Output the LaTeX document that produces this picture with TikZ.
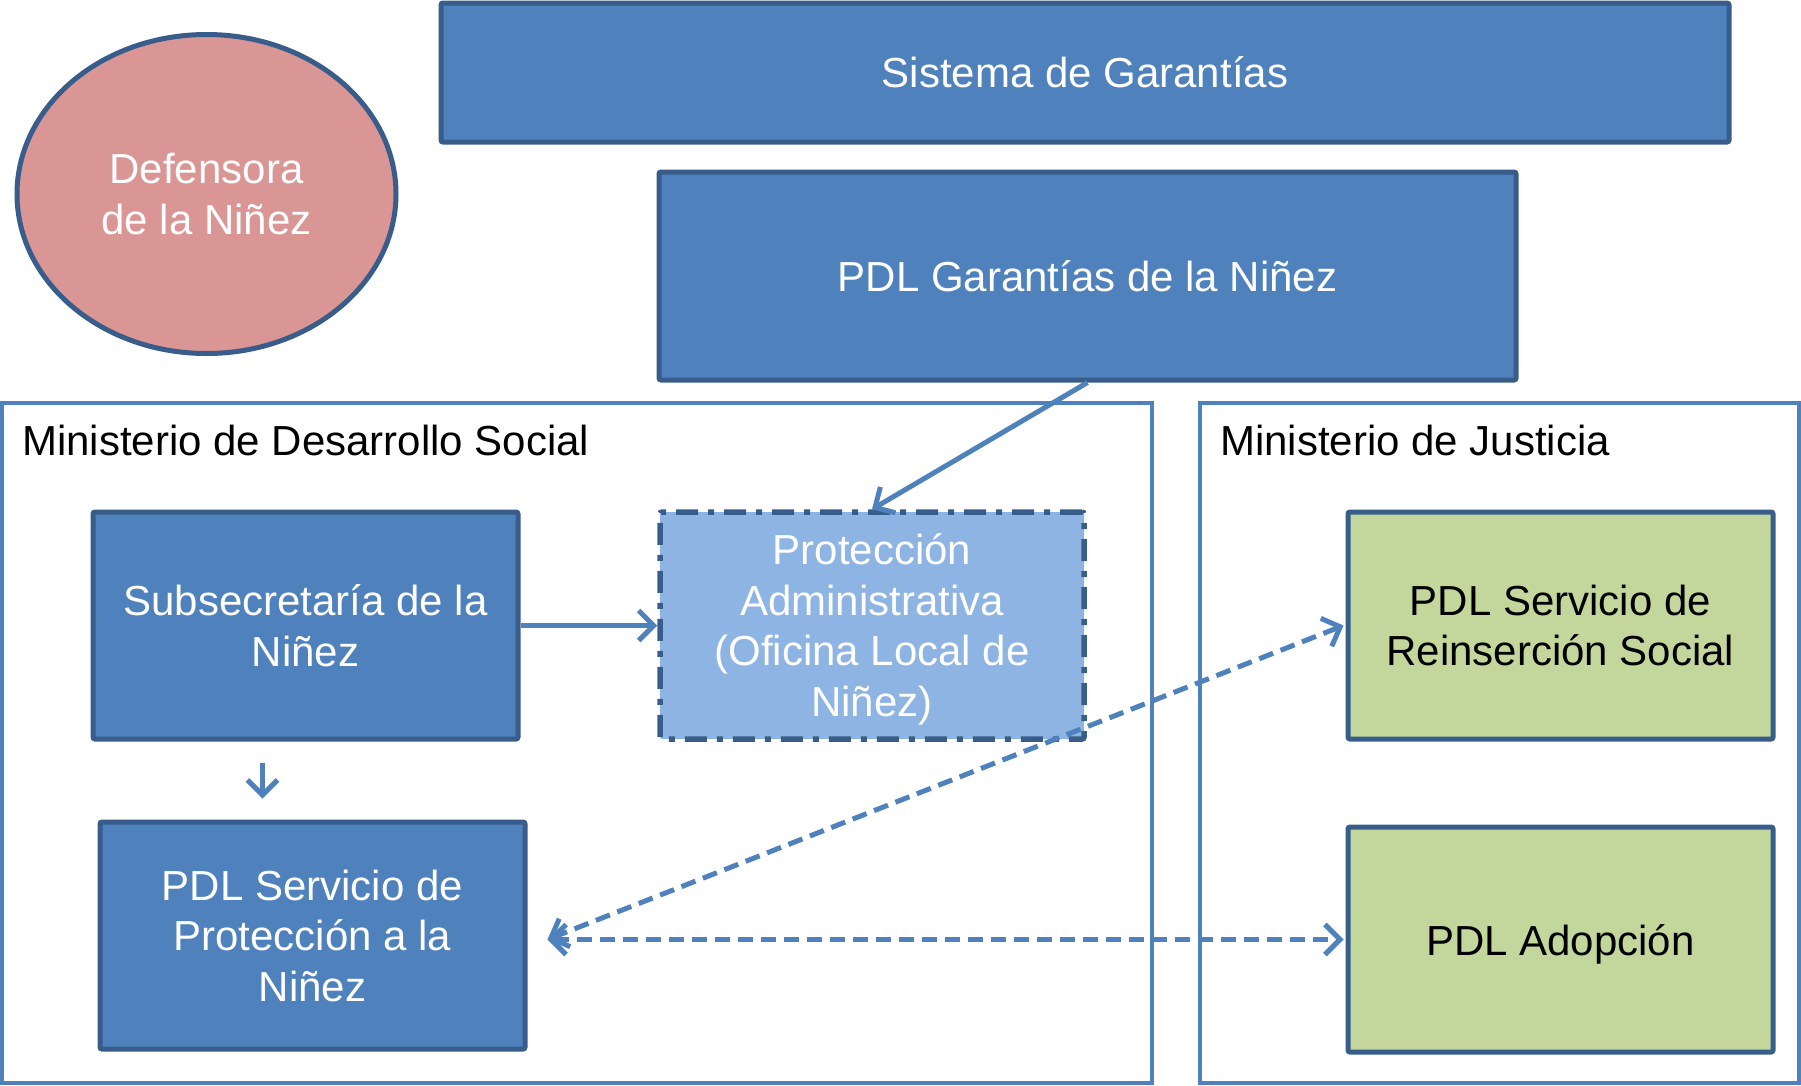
\documentclass[tikz,border=0pt]{standalone}
\usepackage{fontspec}
\setmainfont{Liberation Sans}
\usetikzlibrary{arrows.meta,shapes.geometric}
\definecolor{accent}{HTML}{4F81BD}
\definecolor{edge}{HTML}{385D8A}
\definecolor{lightblue}{HTML}{8EB4E3}
\definecolor{leaf}{HTML}{C3D69B}
\definecolor{rose}{HTML}{D99694}
\tikzset{
  bluebox/.style={draw=edge, line width=5pt, fill=accent, text=white, rounded corners=2pt,
    align=center, inner sep=0pt, font=\fontsize{42}{50.5}\selectfont},
  greenbox/.style={bluebox, fill=leaf, text=black},
  dashbox/.style={bluebox, fill=lightblue, line width=5.5pt, dash pattern=on 22pt off 10pt on 6pt off 10pt},
  container/.style={draw=accent, line width=3.5pt, inner sep=0pt},
  label/.style={anchor=west, inner sep=0pt, font=\fontsize{42}{50.5}\selectfont},
  conn/.style={draw=accent, line width=5pt, -{Straight Barb[length=15pt,width=30pt,line width=5pt]}},
  dconn/.style={conn, dash pattern=on 15pt off 8pt, {Straight Barb[length=15pt,width=30pt,line width=5pt]}-{Straight Barb[length=15pt,width=30pt,line width=5pt]}}
}
\begin{document}
\begin{tikzpicture}[x=1pt,y=-1pt]
\useasboundingbox (0,0) rectangle (1801,1085);
% containers
\node[container, minimum width=1150pt, minimum height=680pt] (mds) at (577,743) {};
\node[container, minimum width=599pt, minimum height=680pt] (mj) at (1499.5,743) {};
\node[label] (mdslab) at (22,440) {Ministerio de Desarrollo Social};
\node[label] (mjlab) at (1220,440) {Ministerio de Justicia};
% top
\node[draw=edge, line width=5pt, fill=rose, ellipse, minimum width=379pt, minimum height=319pt,
  inner sep=0pt, text=white, align=center, font=\fontsize{42}{50.5}\selectfont] (def) at (206.5,194) {Defensora\\de la Niñez};
\node[bluebox, minimum width=1288pt, minimum height=139pt] (sis) at (1085,72.5) {Sistema de Garantías};
\node[bluebox, minimum width=857pt, minimum height=208pt] (pdlg) at (1087.5,276) {PDL Garantías de la Niñez};
% MDS
\node[bluebox, minimum width=425pt, minimum height=227pt] (sub) at (305.5,625.5) {Subsecretaría de la\\Niñez};
\node[dashbox, minimum width=424pt, minimum height=227pt] (prot) at (872,625.5) {\raisebox{-5pt}[\height][\depth]{\begin{tabular}{@{}c@{}}Protección\\Administrativa\\(Oficina Local de\\Niñez)\end{tabular}}};
\node[bluebox, minimum width=425pt, minimum height=227pt] (pdlsp) at (312.5,935.5) {PDL Servicio de\\Protección a la\\Niñez};
% MJ
\node[greenbox, minimum width=425pt, minimum height=227pt] (reins) at (1560.5,625.5) {PDL Servicio de\\Reinserción Social};
\node[greenbox, minimum width=425pt, minimum height=225pt] (adop) at (1560.5,939.5) {\raisebox{-5pt}[\height][\depth]{PDL Adopción}};
% connectors
\draw[conn] (pdlg.south) -- (prot.north);
\draw[conn] (sub.east) -- (prot.west);
\coordinate (dstart) at ([xshift=-43pt,yshift=-21pt]sub.south);
\coordinate (dend) at ([xshift=-43pt,yshift=-57pt]sub.south);
\draw[conn] (dstart) -- (dend);
\coordinate (pside) at ([xshift=20pt,yshift=-4pt]pdlsp.east);
\draw[dconn] (pside) -- ([xshift=-2pt]reins.west);
\draw[dconn] (pside) -- ([xshift=-2pt]adop.west);
\end{tikzpicture}
\end{document}
